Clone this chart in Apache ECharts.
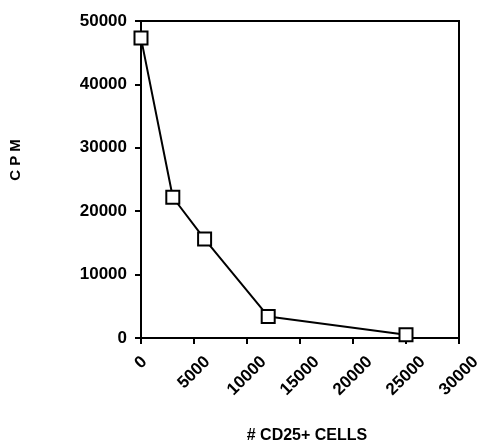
<!DOCTYPE html>
<html>
<head>
<meta charset="utf-8">
<script src="https://cdn.jsdelivr.net/npm/echarts@6/dist/echarts.min.js"></script>
<style>html,body{margin:0;padding:0;background:#fff}#c{width:481px;height:444px}</style>
</head>
<body>
<div id="c"></div>
<script>
const cells = [0, 3000, 6000, 12000, 25000];
const cpm = [47300, 22200, 15600, 3400, 500];
const xTicks = [0, 5000, 10000, 15000, 20000, 25000, 30000];
const yTicks = [0, 10000, 20000, 30000, 40000, 50000];
const xTitle = '# CD25+ CELLS';
const yTitle = 'C P M';

const font = '"Liberation Sans", Arial, Helvetica, sans-serif';
const labelFont = {fontFamily: font, fontWeight: 'bold', fontSize: 17, color: '#000'};
// shorter rotated labels are shifted up so that all label tops line up
function shiftStyle(digits) {
  const p = Math.max(0, (5 - digits) * 0.556 * 17 / 2);
  return Object.assign({padding: [0, 0, p, p]}, labelFont);
}
const chart = echarts.init(document.getElementById('c'));
chart.setOption({
  animation: false,
  backgroundColor: '#fff',
  grid: {left: 141, right: 22, top: 21, bottom: 106, containLabel: false, outerBoundsMode: 'none',
    show: true, borderColor: '#000', borderWidth: 2, backgroundColor: 'transparent'},
  xAxis: {
    type: 'value', min: xTicks[0], max: xTicks[xTicks.length - 1], interval: 5000,
    name: xTitle, nameLocation: 'middle', nameGap: 90,
    nameTextStyle: {fontFamily: font, fontWeight: 'bold', fontSize: 16, color: '#000', padding: [0, 0, 0, 14]},
    axisLine: {show: true, onZero: false, lineStyle: {color: '#000', width: 2}},
    axisTick: {show: true, length: 6, lineStyle: {color: '#000', width: 2}},
    splitLine: {show: false},
    axisLabel: Object.assign({
      rotate: 45, margin: 38, align: 'center', verticalAlign: 'middle',
      formatter: v => '{d' + String(v).length + '|' + v + '}',
      rich: {d1: shiftStyle(1), d4: shiftStyle(4), d5: shiftStyle(5)}
    }, labelFont)
  },
  yAxis: {
    type: 'value', min: yTicks[0], max: yTicks[yTicks.length - 1], interval: 10000,
    axisLine: {show: true, onZero: false, lineStyle: {color: '#000', width: 2}},
    axisTick: {show: true, length: 6, lineStyle: {color: '#000', width: 2}},
    splitLine: {show: false},
    axisLabel: Object.assign({margin: 14, formatter: v => String(v)}, labelFont)
  },
  graphic: [{
    type: 'text', x: 16, y: 160, rotation: Math.PI / 2,
    style: {text: yTitle, font: 'bold 15px ' + font, fill: '#000', textAlign: 'center', textVerticalAlign: 'middle'}
  }],
  series: [{
    type: 'line',
    data: cells.map((c, i) => [c, cpm[i]]),
    symbol: 'rect', symbolSize: 13,
    lineStyle: {color: '#000', width: 2},
    itemStyle: {color: '#fff', borderColor: '#000', borderWidth: 2},
    z: 5
  }]
});
</script>
</body>
</html>
